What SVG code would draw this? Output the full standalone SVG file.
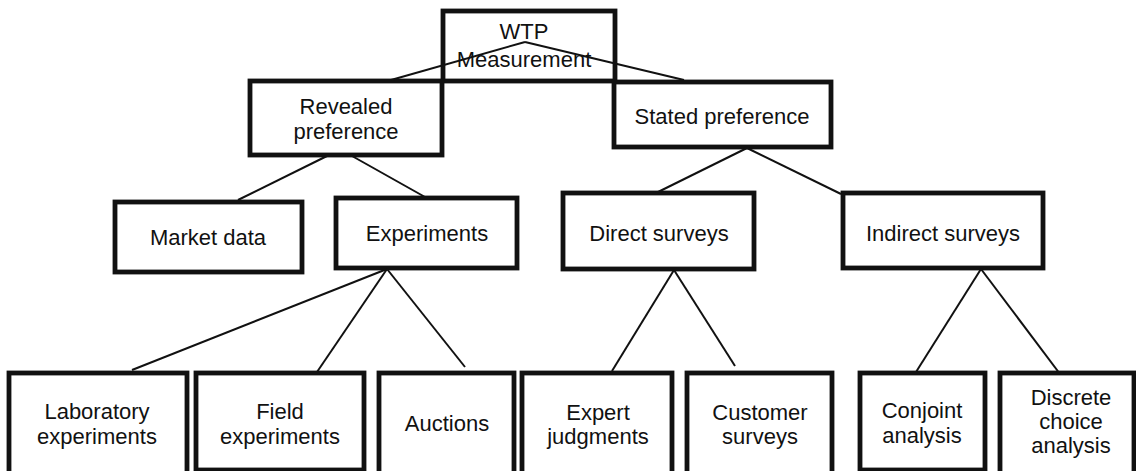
<svg xmlns="http://www.w3.org/2000/svg" width="1136" height="471" viewBox="0 0 1136 471">
<style>
.box{fill:#fff;stroke:#111;stroke-width:4.8}
.t{font-family:"Liberation Sans",Arial,sans-serif;font-size:22px;fill:#111;text-anchor:middle}
.c line{stroke:#111;stroke-width:2}
</style>
<rect width="1136" height="471" fill="#fff"/>
<g id="wtp"><rect class="box" x="443" y="11" width="172" height="70"/><text class="t" x="524" y="39">WTP</text><text class="t" x="524" y="67">Measurement</text></g>
<g id="revealed"><rect class="box" x="250" y="81" width="192" height="74"/><text class="t" x="346" y="114">Revealed</text><text class="t" x="346" y="139">preference</text></g>
<g id="stated"><rect class="box" x="614" y="82" width="217" height="65"/><text class="t" x="722" y="124">Stated preference</text></g>
<g id="market"><rect class="box" x="115" y="202" width="187" height="70"/><text class="t" x="208" y="245">Market data</text></g>
<g id="experiments"><rect class="box" x="336" y="198" width="181" height="70"/><text class="t" x="427" y="241">Experiments</text></g>
<g id="direct"><rect class="box" x="563" y="193" width="191" height="76"/><text class="t" x="659" y="241">Direct surveys</text></g>
<g id="indirect"><rect class="box" x="843" y="193" width="200" height="75"/><text class="t" x="943" y="241">Indirect surveys</text></g>
<g id="lab"><rect class="box" x="9" y="373" width="178" height="117"/><text class="t" x="97" y="419">Laboratory</text><text class="t" x="97" y="444">experiments</text></g>
<g id="field"><rect class="box" x="196" y="373" width="168" height="97"/><text class="t" x="280" y="419">Field</text><text class="t" x="280" y="444">experiments</text></g>
<g id="auctions"><rect class="box" x="379" y="373" width="135" height="117"/><text class="t" x="447" y="431">Auctions</text></g>
<g id="expert"><rect class="box" x="522" y="373" width="150" height="117"/><text class="t" x="598" y="420">Expert</text><text class="t" x="598" y="444">judgments</text></g>
<g id="customer"><rect class="box" x="687" y="373" width="145" height="117"/><text class="t" x="760" y="420">Customer</text><text class="t" x="760" y="444">surveys</text></g>
<g id="conjoint"><rect class="box" x="860" y="373" width="125" height="97"/><text class="t" x="922" y="418">Conjoint</text><text class="t" x="922" y="443">analysis</text></g>
<g id="discrete"><rect class="box" x="1000" y="373" width="134" height="117"/><text class="t" x="1071" y="405">Discrete</text><text class="t" x="1071" y="429">choice</text><text class="t" x="1071" y="453">analysis</text></g>
<g id="connectors" class="c">
<line x1="525" y1="42" x2="391" y2="80"/>
<line x1="525" y1="42" x2="684" y2="80"/>
<line x1="327" y1="156" x2="238" y2="200"/>
<line x1="352" y1="156" x2="425" y2="197"/>
<line x1="747" y1="148" x2="656" y2="193"/>
<line x1="747" y1="148" x2="841" y2="194"/>
<line x1="387" y1="269" x2="132" y2="370"/>
<line x1="387" y1="269" x2="317" y2="372"/>
<line x1="387" y1="269" x2="465" y2="367"/>
<line x1="674" y1="270" x2="612" y2="371"/>
<line x1="674" y1="270" x2="735" y2="366"/>
<line x1="981" y1="269" x2="916" y2="372"/>
<line x1="981" y1="269" x2="1060" y2="374"/>
</g>
</svg>
